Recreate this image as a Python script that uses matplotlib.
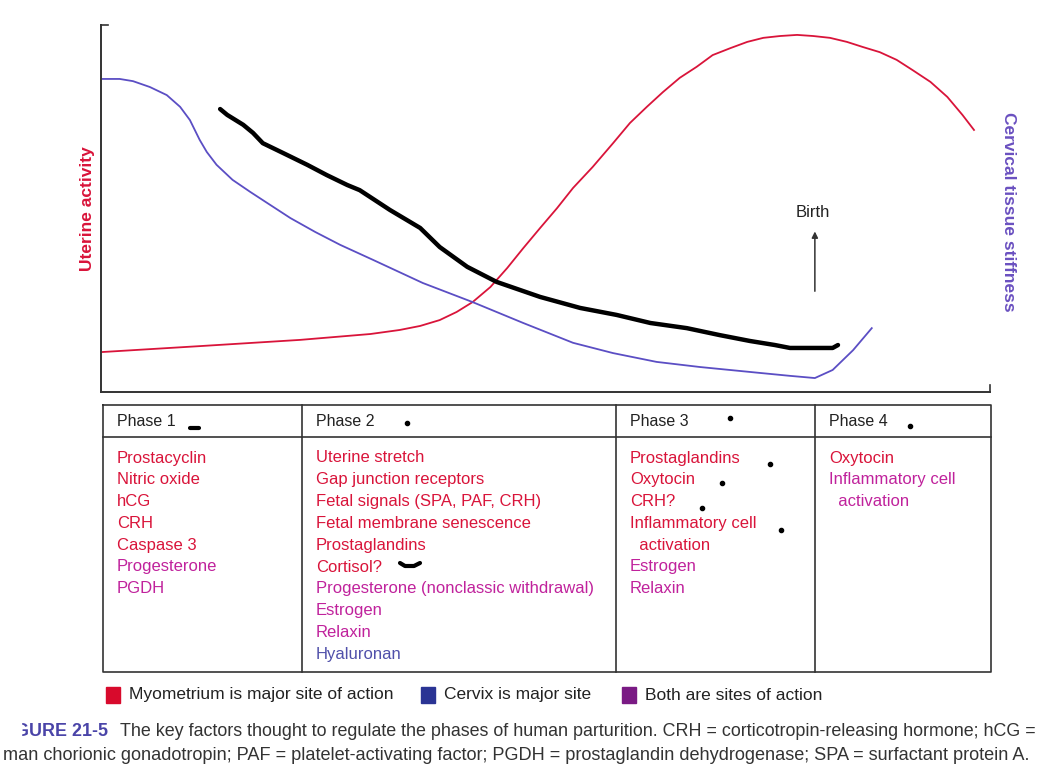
import matplotlib.pyplot as plt
import numpy as np

# curves, x = time (0-100), y = relative level (0-100)
uterine_x = [0.2, 11.1, 22.4, 30.3, 33.6, 35.9, 38.1, 40.0, 41.8, 43.8, 45.7, 47.5, 49.4, 51.3,
             53.1, 55.3, 57.6, 59.5, 61.4, 63.2, 65.1, 67.0, 68.8, 70.8, 72.7, 74.5, 76.4, 78.3,
             80.1, 82.0, 83.9, 85.7, 87.6, 89.5, 91.3, 93.3, 95.2, 96.9, 98.2]
uterine_y = [10.9, 12.5, 14.2, 15.8, 16.9, 18.0, 19.6, 21.8, 24.5, 28.6, 33.8, 39.2, 44.7, 50.1,
             55.6, 61.3, 67.8, 73.3, 77.7, 81.7, 85.6, 88.6, 91.8, 93.7, 95.4, 96.5, 97.0, 97.3,
             97.0, 96.5, 95.4, 94.0, 92.6, 90.5, 87.7, 84.5, 80.4, 75.5, 71.4]

cervix_x = [0.2, 2.1, 3.6, 5.5, 7.4, 8.9, 10.0, 11.1, 11.9, 13.0, 14.8, 16.8, 18.7, 21.3, 24.1,
            26.9, 30.6, 36.2, 41.8, 47.5, 53.1, 57.6, 62.5, 67.4, 74.1, 77.5, 80.3, 82.3, 84.6, 86.7]
cervix_y = [85.3, 85.3, 84.7, 83.1, 80.9, 77.7, 74.1, 68.7, 65.4, 61.9, 57.8, 54.5, 51.5, 47.4, 43.6,
            40.1, 36.0, 29.7, 24.5, 18.8, 13.4, 10.6, 8.2, 6.8, 5.2, 4.4, 3.8, 6.0, 11.4, 17.4]

# hand-drawn black curve
pen_x = [13.4, 14.2, 16.0, 17.1, 18.2, 20.5, 23.2, 25.4, 27.7, 29.1, 32.5, 35.9, 38.1, 41.2, 44.5,
         49.4, 53.9, 58.0, 61.8, 65.9, 69.6, 73.0, 75.8, 77.5, 82.3, 82.9]
pen_y = [77.1, 75.5, 72.8, 70.6, 67.8, 65.1, 61.9, 59.1, 56.4, 55.0, 49.6, 44.7, 39.5, 34.1, 30.0,
         25.9, 22.9, 21.0, 18.8, 17.4, 15.5, 13.9, 12.8, 12.0, 12.0, 12.8]

birth_x = 80.3

RED = '#d9143a'
MAG = '#c0229c'
BLU = '#5050aa'

phases = ['Phase 1', 'Phase 2', 'Phase 3', 'Phase 4']
phase_items = [
    [('Prostacyclin', RED), ('Nitric oxide', RED), ('hCG', RED), ('CRH', RED),
     ('Caspase 3', RED), ('Progesterone', MAG), ('PGDH', MAG)],
    [('Uterine stretch', RED), ('Gap junction receptors', RED),
     ('Fetal signals (SPA, PAF, CRH)', RED), ('Fetal membrane senescence', RED),
     ('Prostaglandins', RED), ('Cortisol?', RED),
     ('Progesterone (nonclassic withdrawal)', MAG), ('Estrogen', MAG), ('Relaxin', MAG),
     ('Hyaluronan', BLU)],
    [('Prostaglandins', RED), ('Oxytocin', RED), ('CRH?', RED), ('Inflammatory cell', RED),
     ('  activation', RED), ('Estrogen', MAG), ('Relaxin', MAG)],
    [('Oxytocin', RED), ('Inflammatory cell', MAG), ('  activation', MAG)],
]

legend_labels = ['Myometrium is major site of action', 'Cervix is major site',
                 'Both are sites of action']
legend_colors = ['#d80a2c', '#2a3494', '#7a1a84']

caption_1 = 'The key factors thought to regulate the phases of human parturition. CRH = corticotropin-releasing hormone; hCG ='
caption_2 = 'man chorionic gonadotropin; PAF = platelet-activating factor; PGDH = prostaglandin dehydrogenase; SPA = surfactant protein A.'

plt.rcParams['font.family'] = ['Liberation Sans', 'DejaVu Sans']

W, H = 1050, 777
fig = plt.figure(figsize=(W / 100, H / 100), dpi=100)

# page overlay in pixel space for table, legend and caption
ov = fig.add_axes([0, 0, 1, 1], zorder=0)
ov.set_xlim(0, W)
ov.set_ylim(H, 0)
ov.axis('off')

# chart
ax = fig.add_axes([101 / W, 1 - 392 / H, 889 / W, 367 / H], zorder=1)
ax.patch.set_alpha(0)
ax.set_xlim(0, 100)
ax.set_ylim(0, 100)
ax.plot(uterine_x, uterine_y, color=RED, lw=1.3, solid_joinstyle='round')
ax.plot(cervix_x, cervix_y, color='#5b4ec4', lw=1.3, solid_joinstyle='round')
ax.plot(pen_x, pen_y, color='black', lw=3.2, solid_capstyle='round', solid_joinstyle='round')
for s in ['top', 'right']:
    ax.spines[s].set_visible(False)
for s in ['left', 'bottom']:
    ax.spines[s].set_color('#333333')
    ax.spines[s].set_linewidth(1.4)
ax.set_xticks([])
ax.set_yticks([])
ax.plot([0, 0.8], [100, 100], color='#333333', lw=1.2, clip_on=False)
ax.plot([100, 100], [0, 2], color='#333333', lw=1.2, clip_on=False)
ax.set_ylabel('Uterine activity', color=RED, fontweight='bold', fontsize=12.5, labelpad=4)
ax.annotate('', xy=(birth_x, 44.5), xytext=(birth_x, 26.7),
            arrowprops=dict(arrowstyle='-|>', color='#333333', lw=1.1, mutation_scale=9))
ax.text(birth_x - 0.2, 48.8, 'Birth', ha='center', va='center', fontsize=12, color='#222222')

fig.text(1008 / W, 1 - 212 / H, 'Cervical tissue stiffness', rotation=270, ha='center',
         va='center', fontsize=12.5, fontweight='bold', color='#6a50c0')

# table
col_edges = [103, 302, 616, 815, 991]
top, head, bottom = 405, 437, 672
ov.plot([col_edges[0], col_edges[-1], col_edges[-1], col_edges[0], col_edges[0]],
        [top, top, bottom, bottom, top], color='#333333', lw=1.2)
ov.plot([col_edges[0], col_edges[-1]], [head, head], color='#333333', lw=1.2)
for xe in col_edges[1:-1]:
    ov.plot([xe, xe], [top, bottom], color='#333333', lw=1.2)

for i, (ph, items) in enumerate(zip(phases, phase_items)):
    x0 = col_edges[i] + 14
    ov.text(x0, 422, ph, fontsize=11.5, color='#222222', va='center')
    for j, (txt, c) in enumerate(items):
        ov.text(x0, 458 + j * 21.8, txt, fontsize=12, color=c, va='center')

# hand-drawn marks
dots_x = [407, 730, 910, 770, 722, 702, 781]
dots_y = [423, 418, 426, 464, 483, 508, 530]
ov.scatter(dots_x, dots_y, s=9, color='black', zorder=5)
ov.plot([190, 199], [428, 428], color='black', lw=3, solid_capstyle='round')
ov.plot([400, 405, 414, 420], [563, 566, 566, 563], color='black', lw=3, solid_capstyle='round')

# legend
leg_x = [106, 421, 622]
for lx, lab, c in zip(leg_x, legend_labels, legend_colors):
    ov.add_patch(plt.Rectangle((lx, 687), 14, 16, color=c))
    ov.text(lx + 23, 695, lab, fontsize=12.5, va='center', color='#222222')

# caption (left edge of the scan cuts the first letters)
ov.text(15, 731, 'GURE 21-5', fontsize=12.9, fontweight='bold', color='#4a44a8',
        va='center')
ov.add_patch(plt.Rectangle((0, 719), 21, 25, color='white', zorder=10))
ov.text(120, 731, caption_1, fontsize=12.85, va='center', color='#333333')
ov.text(3, 756, caption_2, fontsize=13.1, va='center', color='#333333')

fig.savefig('out.png', dpi=100)
